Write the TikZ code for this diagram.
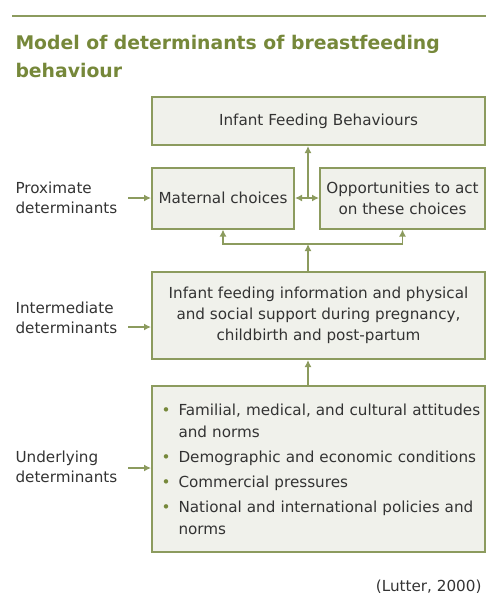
\documentclass[tikz,border=0pt]{standalone}
\usepackage{fontspec}
\setmainfont{DejaVu Sans}
\usetikzlibrary{positioning, arrows.meta}

\definecolor{titlegreen}{HTML}{76883A}
\definecolor{boxline}{HTML}{8C9B5E}
\definecolor{boxfill}{HTML}{F0F1EB}
\definecolor{txtgrey}{HTML}{333333}

% one bullet item of the bottom box
\newcommand{\bitem}[1]{\hangindent=26pt\hangafter=1\noindent\makebox[26pt][l]{\hspace{9pt}\textcolor{titlegreen}{•}}#1\par}

\begin{document}
\begin{tikzpicture}[x=1pt, y=-1pt, text=txtgrey,
  box/.style={draw=boxline, fill=boxfill, line width=2pt, inner sep=0pt, align=center, font=\fontsize{15.2}{21}\selectfont},
  lbl/.style={anchor=base west, align=left, font=\fontsize{15.2}{19.5}\selectfont},
  arr/.style={arrows=-{Latex[length=7pt,width=7pt]}, line width=1.8pt, color=boxline}]
\useasboundingbox (0,0) rectangle (486,606);

\draw[line width=2pt, boxline] (12,16) -- (486,16);
\node (title) [anchor=base west, align=left, text=titlegreen, font=\bfseries\fontsize{18.8}{28}\selectfont] at (12,77.5) {Model of determinants of breastfeeding\\behaviour};

% boxes
\node (ifb) [box, minimum width=333pt, minimum height=48pt] at (318.5,121) {Infant Feeding Behaviours};
\node (maternal) [box, minimum width=142pt, minimum height=61pt] at (223,198) {Maternal choices};
\node (opps) [box, minimum width=165pt, minimum height=61pt] at (402.5,198) {Opportunities to act\\on these choices};
\node (inter) [box, minimum width=333pt, minimum height=87pt] at (318.5,315.5) {Infant feeding information and physical\\and social support during pregnancy,\\childbirth and post-partum};
\node (under) [box, minimum width=333pt, minimum height=166pt, text width=332pt, align=left, font=\fontsize{15.2}{22}\selectfont] at (318.5,469) {\hyphenpenalty=10000\setlength{\parskip}{3pt}%
\bitem{Familial, medical, and cultural attitudes\newline and norms}%
\bitem{Demographic and economic conditions}%
\bitem{Commercial pressures}%
\bitem{National and international policies and\newline norms}};

% left labels
\node (prox) [lbl] at (12,213) {Proximate\\determinants};
\node (interlbl) [lbl] at (12,333) {Intermediate\\determinants};
\node (underlbl) [lbl] at (12,482) {Underlying\\determinants};
\node (src) [anchor=base east, font=\fontsize{15.2}{19}\selectfont] at (485,591) {(Lutter, 2000)};

\coordinate (pa) at (128,198);
\coordinate (ia) at (128,327);
\coordinate (ua) at (128,468);
\coordinate (mid) at (308,198);
\coordinate (br) at (308,244);

\draw[arr] (pa) -- (maternal.west);
\draw[arr] (ia) -- (ia -| inter.west);
\draw[arr] (ua) -- (ua -| under.west);
\draw[arr] (mid) -- (mid |- ifb.south);
\draw[arr] (mid) -- (maternal.east);
\draw[arr] (mid) -- (opps.west);
\draw[arr] (br) -| (maternal.south);
\draw[arr] (br) -| (opps.south);
\draw[arr] (br |- inter.north) -- (br);
\draw[arr] (br |- under.north) -- (br |- inter.south);
\end{tikzpicture}
\end{document}
